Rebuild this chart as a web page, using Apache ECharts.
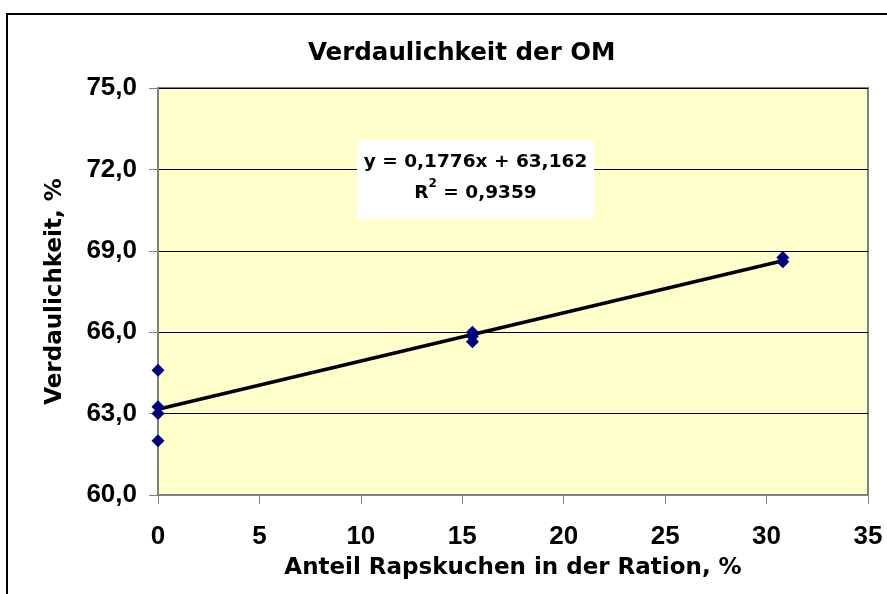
<!DOCTYPE html>
<html>
<head>
<meta charset="utf-8">
<script src="https://cdn.jsdelivr.net/npm/echarts@6/dist/echarts.min.js"></script>
<style>html,body{margin:0;padding:0;background:#fff}#c{width:887px;height:594px}</style>
</head>
<body>
<div id="c"></div>
<script>
// ---- data ----
const pointsX = [0, 0, 0, 0, 15.5, 15.5, 15.5, 30.8, 30.8];
const pointsY = [64.6, 63.25, 63.0, 62.0, 66.0, 65.85, 65.65, 68.75, 68.6];
const trendSlope = 0.1776;
const trendIntercept = 63.162;
const trendRange = [0, 30.8];
const equationText = 'y = 0,1776x + 63,162';
const r2Text = '0,9359';
const xTicks = [0, 5, 10, 15, 20, 25, 30, 35];
const yTicks = ['60,0', '63,0', '66,0', '69,0', '72,0', '75,0'];
const chartTitle = 'Verdaulichkeit der OM';
const xTitle = 'Anteil Rapskuchen in der Ration, %';
const yTitle = 'Verdaulichkeit, %';

const scatterData = pointsX.map((x, i) => [x, pointsY[i]]);
const trendData = trendRange.map(x => [x, trendIntercept + trendSlope * x]);

const chart = echarts.init(document.getElementById('c'), null, {renderer: 'canvas'});
const lab = 'Liberation Sans';
const ttl = 'DejaVu Sans';
chart.setOption({
  animation: false,
  backgroundColor: '#fff',
  title: {
    text: chartTitle, left: 303, top: 36,
    textStyle: {fontFamily: ttl, fontWeight: 'bold', fontSize: 24.5, color: '#000'}
  },
  grid: {
    left: 158, top: 88, right: 19, bottom: 99,
    show: true, backgroundColor: '#FFFFCC', borderColor: '#808080', borderWidth: 2
  },
  xAxis: {
    type: 'value', min: 0, max: 35, interval: 5,
    name: xTitle, nameLocation: 'middle', nameGap: 62,
    nameTextStyle: {fontFamily: ttl, fontWeight: 'bold', fontSize: 23, color: '#000'},
    axisLine: {show: true, lineStyle: {color: '#808080', width: 2}},
    axisTick: {show: true, inside: false, length: 9, lineStyle: {color: '#808080', width: 1}},
    axisLabel: {margin: 29, fontFamily: lab, fontWeight: 'bold', fontSize: 26, color: '#000',
      formatter: v => String(xTicks[Math.round(v / 5)])},
    splitLine: {show: false}
  },
  yAxis: {
    type: 'value', min: 60, max: 75, interval: 3,
    name: yTitle, nameLocation: 'middle', nameGap: 91, nameRotate: 90,
    nameTextStyle: {fontFamily: ttl, fontWeight: 'bold', fontSize: 23, color: '#000'},
    axisLine: {show: true, lineStyle: {color: '#808080', width: 2}},
    axisTick: {show: true, inside: false, length: 9, lineStyle: {color: '#808080', width: 1}},
    axisLabel: {margin: 21, fontFamily: lab, fontWeight: 'bold', fontSize: 26, color: '#000',
      formatter: v => yTicks[Math.round((v - 60) / 3)]},
    splitLine: {show: true, lineStyle: {color: '#000', width: 1}}
  },
  series: [
    {
      type: 'line', data: trendData, symbol: 'none', z: 3,
      lineStyle: {color: '#000', width: 3.5}
    },
    {
      type: 'scatter', data: scatterData, symbol: 'diamond', symbolSize: 13, z: 4,
      itemStyle: {color: '#000080', opacity: 1}
    }
  ],
  graphic: [
    {
      type: 'rect', x: 7, y: 14, z: 0,
      shape: {x: 0, y: 0, width: 1000, height: 700},
      style: {fill: 'none', stroke: '#000', lineWidth: 2}
    },
    {
      type: 'rect', x: 357, y: 140, z: 10,
      shape: {x: 0, y: 0, width: 237, height: 79},
      style: {fill: '#fff'}
    },
    {
      type: 'text', z: 11, x: 475.5, y: 178,
      style: {
        text: equationText + '\nR{sup|2} = ' + r2Text,
        align: 'center', verticalAlign: 'middle',
        font: 'bold 18.5px "DejaVu Sans"', fill: '#000', lineHeight: 31,
        rich: {sup: {fontFamily: 'DejaVu Sans', fontWeight: 'bold', fontSize: 12, fill: '#000', lineHeight: 20, verticalAlign: 'top'}}
      }
    }
  ]
});
</script>
</body>
</html>
